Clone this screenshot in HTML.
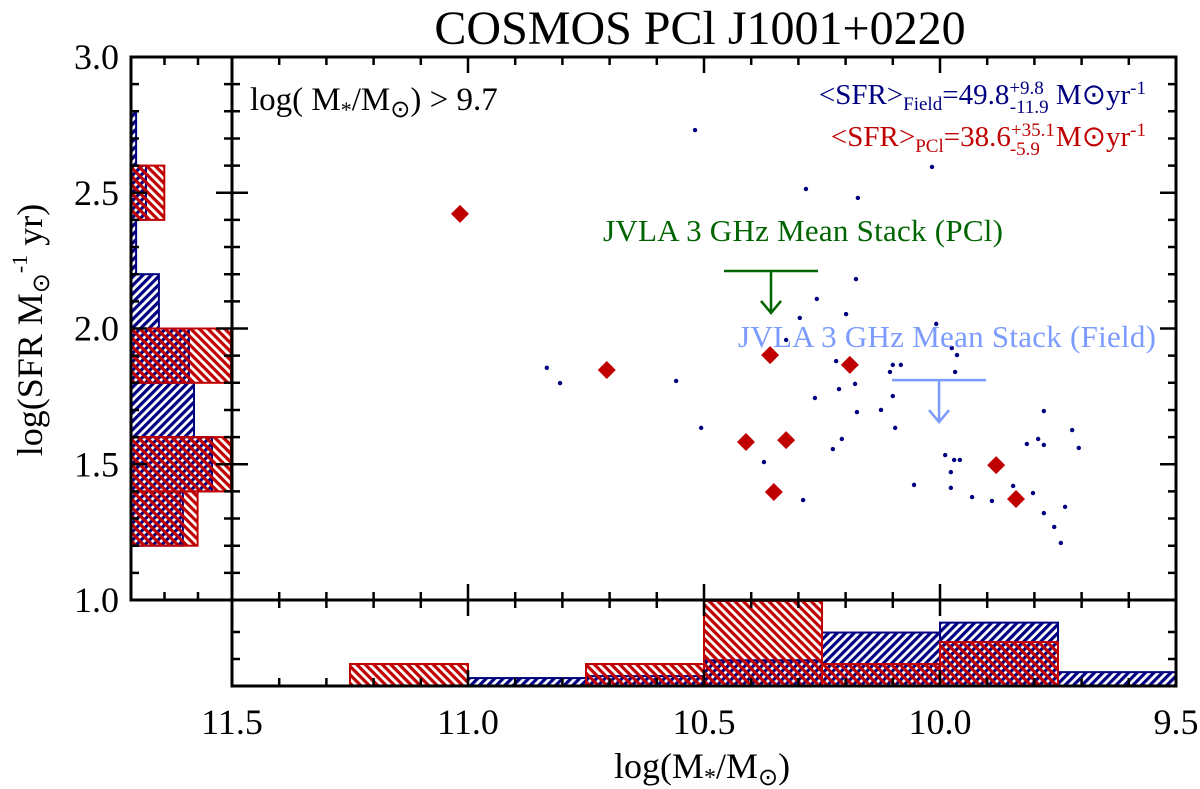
<!DOCTYPE html>
<html><head><meta charset="utf-8"><style>
body{margin:0;background:#fff;}
svg{display:block;font-family:"Liberation Serif",serif;}
</style></head><body>
<svg id="chart" width="1200" height="789" viewBox="0 0 1200 789" xmlns="http://www.w3.org/2000/svg">
<defs>
<pattern id="hb" patternUnits="userSpaceOnUse" width="6" height="6" patternTransform="rotate(-45)">
<rect width="6" height="6" fill="#fff"/><rect width="6" height="3.2" fill="#000080"/></pattern>
<pattern id="hr" patternUnits="userSpaceOnUse" width="6" height="6" patternTransform="rotate(45)">
<rect width="6" height="3.2" fill="#c00000"/></pattern>
</defs>
<text x="700" y="44" font-size="48" text-anchor="middle">COSMOS PCl J1001+0220</text>
<g id="g"></g>
<text x="250" y="110" font-size="33">log( M<tspan font-size="22" dy="7">*</tspan><tspan dy="-7">/M</tspan><tspan font-size="24" dy="7">⊙</tspan><tspan dy="-7">) &gt; 9.7</tspan></text>
<text x="1146" y="104" font-size="29" fill="#000080" text-anchor="end">&lt;SFR&gt;<tspan font-size="19" dy="6">Field</tspan><tspan dy="-6">=49.8</tspan><tspan font-size="19" dy="-10">+9.8</tspan><tspan font-size="19" dx="-34" dy="19">-11.9</tspan><tspan dy="-9"> M⊙yr</tspan><tspan font-size="19" dy="-10">-1</tspan></text>
<text x="1146" y="146" font-size="29" fill="#c00000" text-anchor="end">&lt;SFR&gt;<tspan font-size="19" dy="6">PCl</tspan><tspan dy="-6">=38.6</tspan><tspan font-size="19" dy="-10">+35.1</tspan><tspan font-size="19" dx="-45" dy="19">-5.9</tspan><tspan dx="16" dy="-9">M⊙yr</tspan><tspan font-size="19" dy="-10">-1</tspan></text>
<text x="603" y="241" font-size="31" fill="#006400" textLength="400">JVLA 3 GHz Mean Stack (PCl)</text>
<text x="738" y="347" font-size="31" fill="#7b9bff" textLength="418">JVLA 3 GHz Mean Stack (Field)</text>
<text transform="translate(42,330) rotate(-90)" font-size="36" text-anchor="middle">log(SFR M<tspan font-size="24" dy="7">⊙</tspan><tspan font-size="22" dy="-22">-1</tspan><tspan dy="15"> yr)</tspan></text>
<text x="702" y="778" font-size="36" text-anchor="middle">log(M<tspan font-size="24" dy="7">*</tspan><tspan dy="-7">/M</tspan><tspan font-size="24" dy="7">⊙</tspan><tspan dy="-7">)</tspan></text>
</svg>
<script>
const fieldMass=[10.519,10.284,10.174,10.017,10.178,10.261,10.199,10.297,10.326,10.220,10.833,10.805,10.559,10.180,10.214,10.265,10.176,10.125,10.095,10.506,10.208,10.227,10.373,10.290,10.100,10.106,10.100,10.008,9.975,9.964,10.083,9.968,9.780,9.720,9.792,9.816,9.780,9.706,9.989,9.970,9.958,9.977,10.055,9.977,9.845,9.803,9.932,9.890,9.780,9.735,9.758,9.744];
const fieldSfr=[2.731,2.514,2.481,2.595,2.182,2.109,2.053,2.039,1.958,1.880,1.855,1.799,1.807,1.796,1.777,1.744,1.692,1.700,1.634,1.634,1.593,1.556,1.508,1.368,1.866,1.840,1.751,2.017,1.928,1.902,1.866,1.840,1.696,1.626,1.593,1.575,1.571,1.560,1.534,1.516,1.516,1.471,1.424,1.413,1.420,1.394,1.379,1.365,1.320,1.343,1.269,1.210];
const pclMass=[11.017,10.706,10.360,10.411,10.326,10.352,10.191,9.881,9.839];
const pclSfr=[2.422,1.847,1.902,1.582,1.589,1.398,1.866,1.497,1.372];
const massEdges=[11.5,11.25,11.0,10.75,10.5,10.25,10.0,9.75,9.5];
const massHistField=[0,0,0.04,0.05,0.13,0.27,0.32,0.07];
const massHistPcl=[0,0.111,0,0.111,0.444,0.111,0.222,0];
const sfrEdges=[1.2,1.4,1.6,1.8,2.0,2.2,2.4,2.6,2.8];
const sfrHistField=[0.173,0.27,0.21,0.193,0.093,0.017,0.05,0.017];
const sfrHistPcl=[0.222,0.333,0,0.333,0,0,0.111,0];
const stackMass=[10.358,10.002];
const stackSfr=[2.212,1.810];
const stackColors=['#006400','#7b9bff'];
const xTicks=['11.5','11.0','10.5','10.0','9.5'];
const yTicks=['1.0','1.5','2.0','2.5','3.0'];

const L=232,R=1176,T=57,B=600,HB=686,HL=131;
const X=m=>L+(11.5-m)/2*(R-L);
const Y=s=>B-(s-1)/2*(B-T);
const HY=f=>HB-f*198;
const HX=f=>HL+f*300;
const g=document.getElementById('g');
const NS='http://www.w3.org/2000/svg';
function mk(t,a){const e=document.createElementNS(NS,t);for(const k in a)e.setAttribute(k,a[k]);g.appendChild(e);return e;}

for(let i=0;i<massHistField.length;i++){if(!massHistField[i])continue;
 const x1=X(massEdges[i]),x2=X(massEdges[i+1]),y=Math.max(HY(massHistField[i]),600);
 const r=mk('rect',{x:x1,y:y,width:x2-x1,height:HB-y,fill:'url(#hb)',stroke:'#000080','stroke-width':2});
 
 }
for(let i=0;i<massHistPcl.length;i++){if(!massHistPcl[i])continue;
 const x1=X(massEdges[i]),x2=X(massEdges[i+1]),y=Math.max(HY(massHistPcl[i]),601);
 const r=mk('rect',{x:x1,y:y,width:x2-x1,height:HB-y,fill:'url(#hr)',stroke:'#c00000','stroke-width':2});
 
 }
for(let i=0;i<sfrHistField.length;i++){if(!sfrHistField[i])continue;
 const y1=Y(sfrEdges[i+1]),y2=Y(sfrEdges[i]),w=Math.min(HX(sfrHistField[i]),L)-HL;
 const r=mk('rect',{x:HL,y:y1,width:w,height:y2-y1,fill:'url(#hb)',stroke:'#000080','stroke-width':2});
 
 }
for(let i=0;i<sfrHistPcl.length;i++){if(!sfrHistPcl[i])continue;
 const y1=Y(sfrEdges[i+1]),y2=Y(sfrEdges[i]),w=Math.min(HX(sfrHistPcl[i]),L)-HL;
 const r=mk('rect',{x:HL,y:y1,width:w,height:y2-y1,fill:'url(#hr)',stroke:'#c00000','stroke-width':2});
 
 }

for(let i=0;i<fieldMass.length;i++){
 const c=mk('circle',{cx:X(fieldMass[i]),cy:Y(fieldSfr[i]),r:2.2,fill:'#000080'});
 
 }
for(let i=0;i<pclMass.length;i++){const x=X(pclMass[i]),y=Y(pclSfr[i]),d=9;
 const p=mk('polygon',{points:`${x},${y-d} ${x+d},${y} ${x},${y+d} ${x-d},${y}`,fill:'#c00000'});
 
 }
for(let i=0;i<stackMass.length;i++){const x=X(stackMass[i]),y=Y(stackSfr[i]),c=stackColors[i];
 const p=mk('path',{d:`M${x-47},${y}H${x+47}M${x},${y}V${y+42}M${x-10},${y+30}L${x},${y+42}L${x+10},${y+30}`,fill:'none',stroke:c,'stroke-width':2.5});
 
 }

let f=mk('rect',{x:L,y:T,width:R-L,height:B-T,fill:'none',stroke:'#000','stroke-width':3});


f=mk('rect',{x:L,y:B,width:R-L,height:HB-B,fill:'none',stroke:'#000','stroke-width':3});


f=mk('rect',{x:HL,y:T,width:L-HL,height:B-T,fill:'none',stroke:'#000','stroke-width':3});



let d='';
for(let k=0;k<=20;k++){const m=11.5-k*0.1,x=X(m),len=k%5===0?16:8;
 d+=`M${x},${B}V${B-len}M${x},${T}V${T+len}M${x},${HB}V${HB-len}M${x},${B}V${B+len}`;}
for(let k=0;k<=20;k++){const s=1+k*0.1,y=Y(s),len=k%5===0?16:8;
 d+=`M${L},${y}H${L+len}M${R},${y}H${R-len}M${HL},${y}H${HL+len}M${L},${y}H${L-len}`;}
for(let k=1;k<3;k++){const y=HB-k*27;d+=`M${L},${y}H${L+8}M${R},${y}H${R-8}`;}
for(let k=1;k<3;k++){const x=HL+k*33.5;d+=`M${x},${T}V${T+8}M${x},${B}V${B-8}`;}
const tk=mk('path',{d:d,stroke:'#000','stroke-width':2.5,fill:'none'});


xTicks.forEach(t=>{const e=mk('text',{x:X(parseFloat(t)),y:734,'font-size':36,'text-anchor':'middle'});e.textContent=t;
 
 });
yTicks.forEach(t=>{const e=mk('text',{x:119,y:Y(parseFloat(t))+12,'font-size':36,'text-anchor':'end'});e.textContent=t;
 
 });
</script>
</body></html>
